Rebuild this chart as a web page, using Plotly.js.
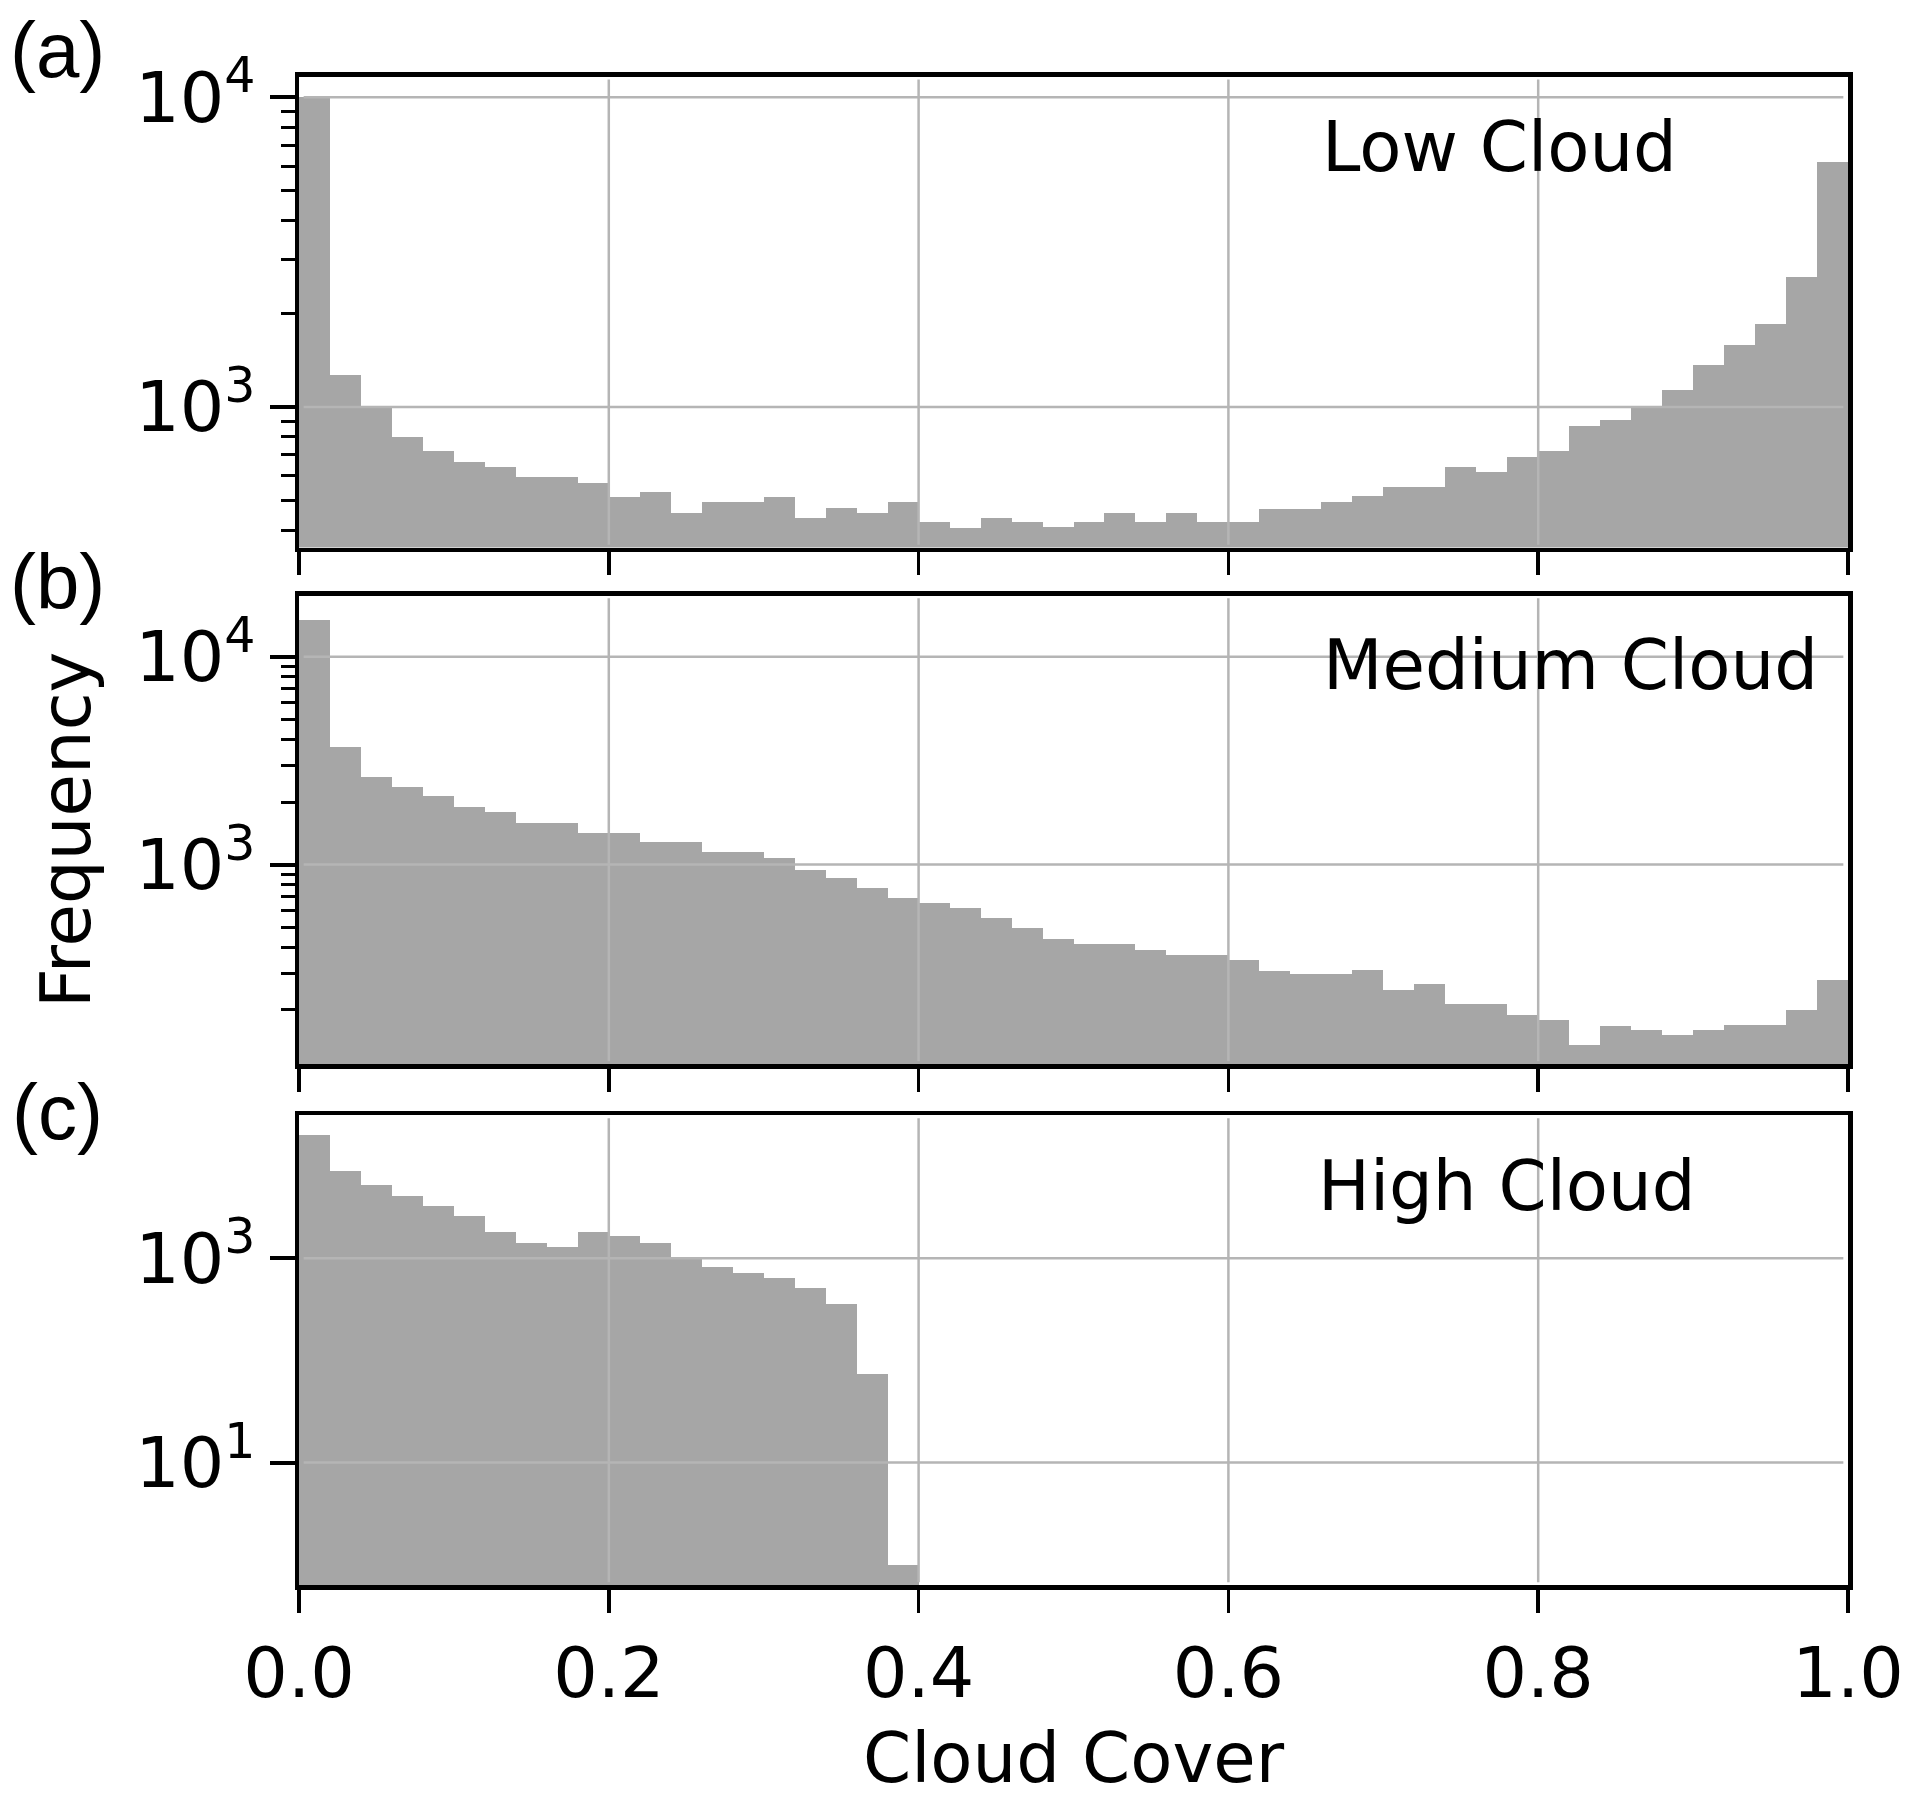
<!DOCTYPE html>
<html>
<head>
<meta charset="utf-8">
<script src="https://cdn.plot.ly/plotly-3.0.1.min.js"></script>
<style>html,body{margin:0;padding:0;background:#fff;}</style>
</head>
<body>
<div id="chart" style="width:1919px;height:1801px;"></div>
<script>
// ---- data ----
const binCenters = [0.01,0.03,0.05,0.07,0.09,0.11,0.13,0.15,0.17,0.19,
                    0.21,0.23,0.25,0.27,0.29,0.31,0.33,0.35,0.37,0.39,
                    0.41,0.43,0.45,0.47,0.49,0.51,0.53,0.55,0.57,0.59,
                    0.61,0.63,0.65,0.67,0.69,0.71,0.73,0.75,0.77,0.79,
                    0.81,0.83,0.85,0.87,0.89,0.91,0.93,0.95,0.97,0.99];

const lowCloud = [10000,1270,1000,800,720,666,640,593,593,569,
                  510,531,453,492,492,510,438,473,453,492,
                  424,405,438,424,409,424,455,424,455,424,
                  424,469,469,492,514,550,550,640,617,691,
                  720,867,907,1000,1132,1365,1588,1852,2620,6200];

const mediumCloud = [15100,3700,2650,2370,2130,1900,1790,1590,1590,1424,
                     1424,1284,1284,1150,1150,1080,940,863,767,687,
                     650,615,551,494,437,414,414,389,368,368,
                     348,309,296,296,311,250,266,213,213,189,
                     179,136,168,159,152,159,169,169,199,277];

const highCloud = [16080,7190,5210,4090,3270,2590,1800,1414,1304,1800,
                   1660,1414,1024,818,713,642,517,360,73,1,
                   0,0,0,0,0,0,0,0,0,0,
                   0,0,0,0,0,0,0,0,0,0,
                   0,0,0,0,0,0,0,0,0,0];

const panelNames = ['Low Cloud','Medium Cloud','High Cloud'];
const panelTags = ['(a)','(b)','(c)'];
const xTickVals = [0,0.2,0.4,0.6,0.8,1.0];
const xTickText = ['0.0','0.2','0.4','0.6','0.8','1.0'];
const yTickVals = [[1000,10000],[1000,10000],[10,1000]];
const yTickText = [['10<sup>3</sup>','10<sup>4</sup>'],
                   ['10<sup>3</sup>','10<sup>4</sup>'],
                   ['10<sup>1</sup>','10<sup>3</sup>']];
const xTitle = 'Cloud Cover';
const yTitle = 'Frequency';

// ---- styling / layout ----
const W = 1919, H = 1801;
const px = v => v / W;
const py = v => 1 - v / H;
const FONT = 'DejaVu Sans, Verdana, sans-serif';
const BAR = '#a6a6a6';
const GRID = '#b5b5b5';

const xDomain = [px(299), px(1848)];
const yDomains = [[py(547.5), py(76.6)], [py(1064), py(595.5)], [py(1585), py(1115.4)]];
const yRanges = [[2.546, 4.067], [2.04, 4.295], [-0.2, 4.40]];
const series = [lowCloud, mediumCloud, highCloud];

// minor log ticks (2..9 x 10^n)
const minorVals = [];
for (let e = 0; e <= 4; e++) for (let d = 2; d <= 9; d++) minorVals.push(d * Math.pow(10, e));

const traces = series.map((ys, i) => ({
  type: 'bar',
  x: binCenters,
  y: ys,
  width: 0.02,
  marker: {color: BAR, line: {width: 0}},
  xaxis: i === 0 ? 'x' : 'x' + (i + 1),
  yaxis: i === 0 ? 'y' : 'y' + (i + 1),
  hoverinfo: 'x+y',
  showlegend: false
}));

const layout = {
  width: W, height: H,
  margin: {l: 0, r: 0, t: 0, b: 0},
  paper_bgcolor: '#ffffff',
  plot_bgcolor: '#ffffff',
  bargap: 0,
  showlegend: false,
  font: {family: FONT, color: '#000'},
  annotations: [],
  shapes: []
};

for (let i = 0; i < 3; i++) {
  const s = i === 0 ? '' : String(i + 1);
  layout['xaxis' + s] = {
    domain: xDomain, anchor: 'y' + s, range: [0, 1],
    showgrid: false, zeroline: false,
    showline: true, linecolor: '#000', linewidth: 4.5, mirror: true,
    ticks: 'outside', ticklen: 23, tickwidth: 3.5, tickcolor: '#000',
    tickmode: 'array', tickvals: xTickVals, ticktext: xTickText,
    showticklabels: i === 2,
    tickfont: {family: FONT, size: 70, color: '#000'},
    layer: 'above traces', fixedrange: true
  };
  const yax = {
    domain: yDomains[i], anchor: 'x' + s, type: 'log', range: yRanges[i],
    showgrid: false, zeroline: false,
    showline: true, linecolor: '#000', linewidth: 4.5, mirror: true,
    ticks: 'outside', ticklen: 25, tickwidth: 4, tickcolor: '#000',
    tickmode: 'array', tickvals: yTickVals[i], ticktext: yTickText[i],
    tickfont: {family: FONT, size: 70, color: '#000'},
    layer: 'above traces', fixedrange: true
  };
  if (i < 2) {
    yax.minor = {tickmode: 'array', tickvals: minorVals, ticks: 'outside',
                 ticklen: 14, tickwidth: 3, tickcolor: '#000', showgrid: false};
  }
  layout['yaxis' + s] = yax;

  // gridlines drawn above the bars (as in the reference)
  xTickVals.slice(1, -1).forEach(v => layout.shapes.push({
    type: 'line', layer: 'above', xref: 'x' + s, yref: 'y' + s + ' domain',
    x0: v, x1: v, y0: 0.006, y1: 0.994, line: {color: GRID, width: 2.5}
  }));
  yTickVals[i].forEach(v => layout.shapes.push({
    type: 'line', layer: 'above', xref: 'x' + s + ' domain', yref: 'y' + s,
    x0: 0.003, x1: 0.997, y0: v, y1: v, line: {color: GRID, width: 2.5}
  }));
}

// panel names
const nameX = [px(1320), px(1321), px(1316)];
const nameY = [py(147), py(665), py(1186)];
panelNames.forEach((t, i) => layout.annotations.push({
  text: t, xref: 'paper', yref: 'paper', x: nameX[i], y: nameY[i],
  xanchor: 'left', yanchor: 'middle', showarrow: false,
  font: {family: FONT, size: 69, color: '#000'}
}));

// panel tags
const tagY = [py(50), py(582), py(1112)];
panelTags.forEach((t, i) => layout.annotations.push({
  text: t, xref: 'paper', yref: 'paper', x: px(57), y: tagY[i],
  xanchor: 'center', yanchor: 'middle', showarrow: false,
  font: {family: 'Liberation Sans, Arial, sans-serif', size: 78, color: '#000'}
}));

// axis titles
layout.annotations.push({
  text: yTitle, xref: 'paper', yref: 'paper', x: px(66), y: py(830),
  xanchor: 'center', yanchor: 'middle', textangle: -90, showarrow: false,
  font: {family: FONT, size: 69, color: '#000'}
});
layout.annotations.push({
  text: xTitle, xref: 'paper', yref: 'paper', x: px(1074), y: py(1758),
  xanchor: 'center', yanchor: 'middle', showarrow: false,
  font: {family: FONT, size: 69, color: '#000'}
});

Plotly.newPlot('chart', traces, layout, {displayModeBar: false, staticPlot: true});
</script>
</body>
</html>
